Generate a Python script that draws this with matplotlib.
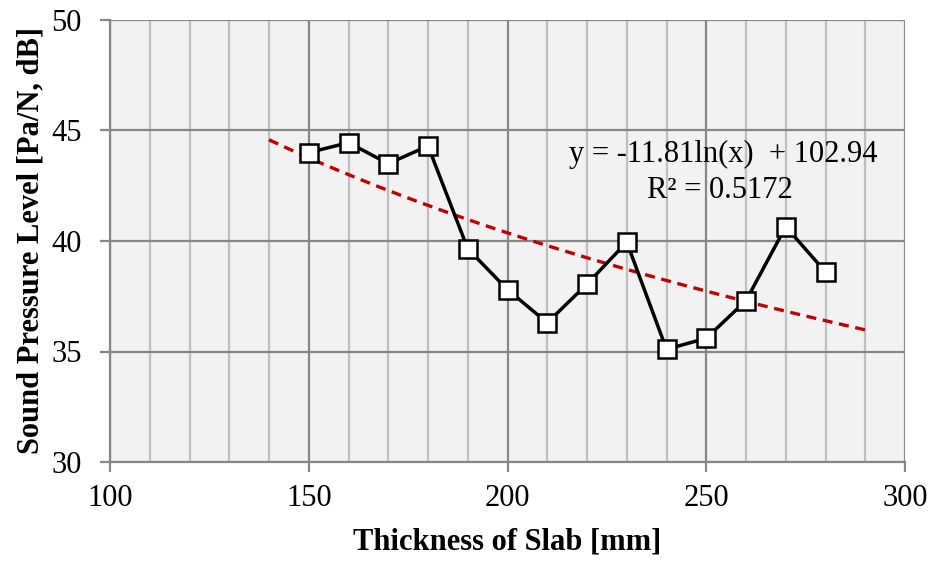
import numpy as np
import matplotlib
matplotlib.use("Agg")
import matplotlib.pyplot as plt
from matplotlib.ticker import MultipleLocator

thickness = [150, 160, 170, 180, 190, 200, 210, 220, 230, 240, 250, 260, 270, 280]
spl = [44.0, 44.45, 43.5, 44.3, 39.65, 37.8, 36.3, 38.05, 39.95, 35.1, 35.6, 37.3, 40.65, 38.6]
fit_a = -11.81
fit_b = 102.94
fit_range = [140, 290]
eq_text = "y = -11.81ln(x)  + 102.94"
r2_text = "R² = 0.5172"

plt.rcParams['font.family'] = ['Liberation Serif', 'DejaVu Serif']

fig = plt.figure(figsize=(9.3, 5.63), dpi=100)
ax = fig.add_axes([110/930, 101/563, 795/930, 442/563])
ax.set_facecolor('#F2F2F2')

ax.set_xlim(100, 300)
ax.set_ylim(30, 50)
ax.xaxis.set_major_locator(MultipleLocator(50))
ax.xaxis.set_minor_locator(MultipleLocator(10))
ax.yaxis.set_major_locator(MultipleLocator(5))

ax.grid(which='major', color='#878787', linewidth=1.6, zorder=0)
ax.grid(which='minor', axis='x', color='#BFBFBF', linewidth=1.6, zorder=0)
ax.set_axisbelow(True)

for s in ['top', 'right']:
    ax.spines[s].set_visible(False)
for s in ['left', 'bottom']:
    ax.spines[s].set_color('#878787')
    ax.spines[s].set_linewidth(1.6)

ax.tick_params(which='major', direction='out', length=7.2, width=1.6, color='#878787',
               labelsize=22)
ax.tick_params(axis='x', which='major', pad=9)
ax.tick_params(axis='y', which='major', pad=13)
ax.tick_params(which='minor', length=0)

xf = np.linspace(fit_range[0], fit_range[1], 200)
yf = fit_a * np.log(xf) + fit_b
ax.plot(xf, yf, color='#C00000', linestyle=(0, (3, 2)), linewidth=2.4, zorder=3)

ax.plot(thickness, spl, color='black', linewidth=2.5, marker='s', markersize=13,
        markerfacecolor='white', markeredgecolor='black', markeredgewidth=1.8, zorder=4)

ax.text(0.966, 0.695, eq_text, transform=ax.transAxes, ha='right', va='center', fontsize=22)
ax.text(0.767, 0.615, r2_text, transform=ax.transAxes, ha='center', va='center', fontsize=22)

ax.set_xlabel('Thickness of Slab [mm]', fontsize=22, fontweight='bold', labelpad=10)
ax.set_ylabel('Sound Pressure Level [Pa/N, dB]', fontsize=22, fontweight='bold', labelpad=4)

fig.savefig('out.png', dpi=100)
